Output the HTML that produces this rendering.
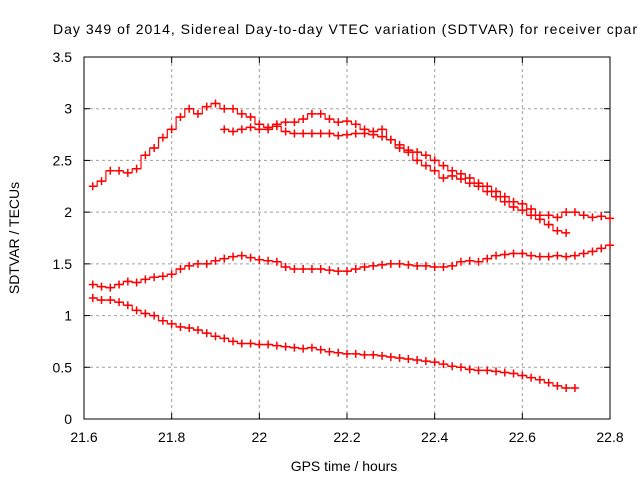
<!DOCTYPE html>
<html><head><meta charset="utf-8"><style>
body{margin:0;background:#fff;}
svg text{font-family:"Liberation Sans",sans-serif;font-size:14px;fill:#000;}
</style></head><body>
<svg id="chart" width="640" height="480" xmlns="http://www.w3.org/2000/svg">
<rect width="640" height="480" fill="#fff"/>
<text x="53" y="34" textLength="584" lengthAdjust="spacing">Day 349 of 2014, Sidereal Day-to-day VTEC variation (SDTVAR) for receiver cpar</text>
<g id="grid"></g>
<rect x="84" y="57" width="526" height="362" fill="none" stroke="#000" stroke-width="1"/>
<g id="ticks"></g>
<g id="series"></g>
<text x="344" y="471" text-anchor="middle">GPS time / hours</text>
<text transform="translate(19,238) rotate(-90)" text-anchor="middle">SDTVAR / TECUs</text>
</svg>
<script>
const xTicks=[21.6,21.8,22,22.2,22.4,22.6,22.8];
const yTicks=[0,0.5,1,1.5,2,2.5,3,3.5];
const startA=21.62, seriesA=[2.25,2.3,2.4,2.4,2.38,2.42,2.55,2.62,2.72,2.8,2.92,3.0,2.95,3.02,3.05,3.0,3.0,2.95,2.92,2.85,2.82,2.85,2.87,2.87,2.9,2.95,2.95,2.9,2.87,2.88,2.85,2.8,2.78,2.8,2.7,2.62,2.58,2.5,2.45,2.4,2.33,2.35,2.32,2.28,2.25,2.2,2.15,2.1,2.05,2.02,1.97,1.93,1.88,1.82,1.8];
const startB=21.92, seriesB=[2.8,2.78,2.8,2.82,2.8,2.8,2.83,2.78,2.76,2.76,2.76,2.76,2.76,2.74,2.75,2.76,2.76,2.75,2.73,2.7,2.65,2.6,2.58,2.55,2.5,2.45,2.4,2.37,2.33,2.28,2.25,2.2,2.15,2.1,2.08,2.03,1.97,1.97,1.95,2.0,2.0,1.97,1.95,1.96,1.94];
const startC=21.62, seriesC=[1.3,1.28,1.27,1.3,1.33,1.32,1.35,1.37,1.38,1.4,1.45,1.48,1.5,1.5,1.53,1.55,1.57,1.58,1.56,1.54,1.53,1.52,1.47,1.45,1.45,1.45,1.45,1.44,1.43,1.43,1.45,1.47,1.48,1.49,1.5,1.5,1.49,1.48,1.48,1.47,1.47,1.48,1.52,1.53,1.52,1.55,1.58,1.59,1.6,1.6,1.58,1.57,1.57,1.58,1.57,1.58,1.6,1.62,1.65,1.68];
const startD=21.62, seriesD=[1.17,1.15,1.15,1.13,1.1,1.05,1.02,1.0,0.95,0.92,0.89,0.88,0.86,0.83,0.8,0.78,0.75,0.73,0.73,0.72,0.72,0.71,0.7,0.69,0.68,0.69,0.67,0.65,0.64,0.63,0.63,0.62,0.62,0.61,0.6,0.59,0.58,0.57,0.56,0.55,0.53,0.51,0.5,0.48,0.47,0.47,0.46,0.45,0.44,0.42,0.4,0.38,0.35,0.32,0.3,0.3];
const step=0.02;
const NS="http://www.w3.org/2000/svg";
const X=t=>84+(t-21.6)/1.2*526;
const Y=v=>419-v/3.5*362;
function mk(tag,attrs,parent){const e=document.createElementNS(NS,tag);for(const k in attrs)e.setAttribute(k,attrs[k]);parent.appendChild(e);return e;}
const grid=document.getElementById('grid'),ticks=document.getElementById('ticks'),ser=document.getElementById('series');
xTicks.forEach(t=>{
  if(t>21.6&&t<22.8){const g=mk('line',{x1:X(t),x2:X(t),y1:57,y2:419,stroke:'#a0a0a0','stroke-dasharray':'3,3'},grid);
  
  }
  mk('line',{x1:X(t),x2:X(t),y1:419,y2:413,stroke:'#000'},ticks);
  mk('line',{x1:X(t),x2:X(t),y1:57,y2:63,stroke:'#000'},ticks);
  const l=mk('text',{x:X(t),y:442,'text-anchor':'middle'},ticks);l.textContent=String(t);
  
  
});
yTicks.forEach(v=>{
  if(v>0&&v<3.5){const g=mk('line',{x1:84,x2:610,y1:Y(v),y2:Y(v),stroke:'#a0a0a0','stroke-dasharray':'3,3'},grid);
  
  }
  mk('line',{x1:84,x2:90,y1:Y(v),y2:Y(v),stroke:'#000'},ticks);
  mk('line',{x1:604,x2:610,y1:Y(v),y2:Y(v),stroke:'#000'},ticks);
  const l=mk('text',{x:72,y:Y(v)+5,'text-anchor':'end'},ticks);l.textContent=String(v);
  
  
});
[[startA,seriesA,'series-a'],[startB,seriesB,'series-b'],[startC,seriesC,'series-c'],[startD,seriesD,'series-d']].forEach(([s0,arr,name])=>{
  const g=mk('g',{},ser);
  
  
  let d='';
  arr.forEach((v,i)=>{const x=X(s0+i*step),y=Y(v);
    if(i===0)d+='M'+x.toFixed(1)+','+y.toFixed(1);
    else{const px=X(s0+(i-0.5)*step);d+='H'+px.toFixed(1)+'V'+y.toFixed(1)+'H'+x.toFixed(1);}
  });
  mk('path',{d:d,fill:'none',stroke:'#ff0000','stroke-width':1.2},g);
  arr.forEach((v,i)=>{const x=X(s0+i*step),y=Y(v);
    const p=mk('path',{d:`M${x-4},${y}H${x+4}M${x},${y-4}V${y+4}`,stroke:'#ff0000','stroke-width':1.5},g);
    
    
  });
});
</script>
</body></html>
